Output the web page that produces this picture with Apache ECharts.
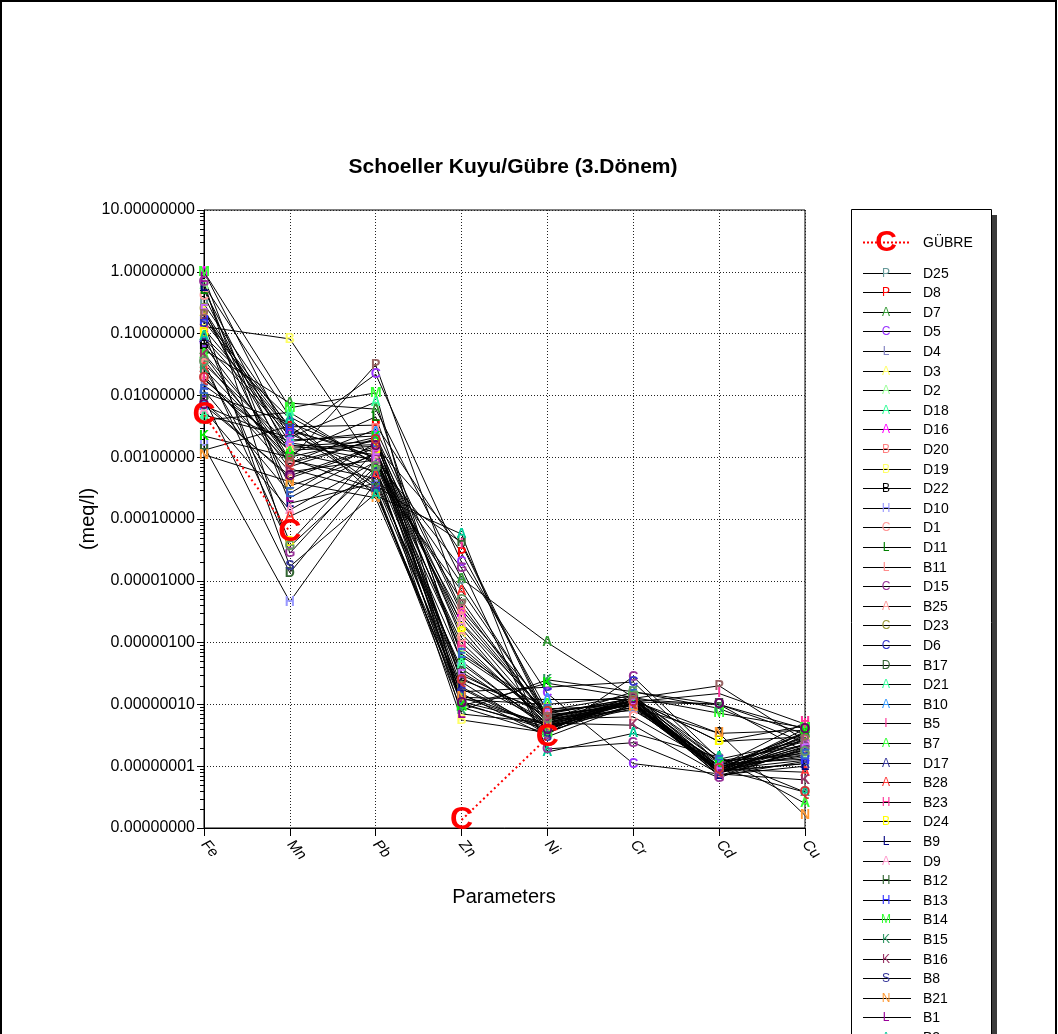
<!DOCTYPE html>
<html>
<head>
<meta charset="utf-8">
<script src="https://cdn.jsdelivr.net/npm/echarts@6/dist/echarts.min.js"></script>
<style>
  html, body { margin: 0; padding: 0; background: #fff; }
  #chart { width: 1058px; height: 1034px; }
</style>
</head>
<body>
<div id="chart"></div>
<script>
// Schoeller diagram: trace metals (meq/l) for wells and the fertiliser sample
const parameters = ['Fe', 'Mn', 'Pb', 'Zn', 'Ni', 'Cr', 'Cd', 'Cu'];

const wellNames = ['D25','D8','D7','D5','D4','D3','D2','D18','D16','D20','D19','D22','D10','D1','D11','B11',
  'D15','B25','D23','D6','B17','D21','B10','B5','B7','D17','B28','B23','D24','B9','D9','B12','B13','B14',
  'B15','B16','B8','B21','B1','B2','B3','B4','B6','B18','B19','B20','B22','B24'];
const wellLetters = ['P','P','A','C','L','A','A','A','A','B','B','B','H','C','L','L',
  'C','A','C','C','D','A','A','I','A','A','A','H','B','L','A','H','H','M',
  'K','K','S','N','L','A','G','E','K','F','G','O','Q','P'];
const wellColors = ['#669999','#ff0000','#339933','#9933ff','#8080c0','#ffff66','#99ff99','#33ff99','#ff00ff','#ff8080','#ffff66','#000000','#9999ff','#ff9999','#008000','#ff8c8c',
  '#993399','#ff9999','#999933','#3333cc','#336633','#33ff99','#3399ff','#ff3399','#33ff33','#333399','#ff3333','#ff3399','#ffff00','#000080','#ff99cc','#336633','#3333ff','#33ff33',
  '#339966','#993366','#333399','#ff9933','#990099','#00cc99','#993399','#3366cc','#00ee00','#cc66ff','#669966','#660066','#cc3333','#996666'];

const fe = [0.30,0.18,0.055,0.07,0.0146,0.22,0.6,0.004,1.0,0.037,0.13,0.065,0.0015,0.41,0.5,0.021,
  0.0078,0.032,0.25,0.011,0.009,0.0048,0.0068,0.018,0.047,0.085,0.028,0.12,0.1,0.57,0.0058,0.0013,0.16,1.0,
  0.027,0.045,0.15,0.0011,0.8,0.09,0.68,0.012,0.0022,0.24,0.035,0.007,0.019,0.2];
const mn = [0.0028,0.0031,0.0075,0.0022,0.0015,0.0014,0.0045,0.0053,0.0019,0.00081,0.082,0.0009,4.6e-6,0.0007,0.0011,0.00058,
  0.00046,0.0016,0.00034,0.0036,1.35e-5,0.0021,0.0018,0.0013,0.0012,0.0024,0.00011,0.0026,4.2e-5,0.00018,0.00014,0.0032,0.0027,0.0063,
  0.00095,0.00065,1.7e-5,0.0004,0.00022,0.0042,2.8e-5,0.00026,0.001,0.0017,3.6e-5,0.0005,0.0008,0.0009];
const pb = [0.001,0.0033,0.006,0.022,0.0018,0.0016,0.0008,0.00075,0.0022,0.0028,0.0007,0.00045,0.0004,0.002,0.0045,0.0009,
  0.0014,0.0009,0.0011,0.00095,0.00065,0.0078,0.0025,0.0015,0.0006,0.00055,0.0005,0.0012,0.0013,0.00038,0.00085,0.00035,0.00032,0.011,
  0.0003,0.00028,0.00026,0.00022,0.0012,0.00024,0.0009,0.0017,0.0021,0.0011,0.0007,0.0015,0.0019,0.031];
const zn = [9e-6,2.8e-5,1.08e-5,2e-5,2e-6,1.4e-6,7.5e-7,5e-7,3e-6,3.4e-6,5.6e-8,2.7e-7,3.8e-7,1.2e-6,6e-7,1e-6,
  2.3e-7,2.6e-6,1.9e-7,1.6e-7,3.3e-7,4.5e-7,1.3e-7,3.9e-5,1.2e-7,1.4e-7,6.9e-6,8.4e-7,1.7e-6,1.8e-7,2.1e-6,4.2e-5,1e-7,9e-8,
  8e-8,1.1e-7,1.5e-7,1.3e-7,7e-8,5.7e-5,1.6e-5,6.5e-7,9.5e-8,3e-7,4.8e-6,1.05e-7,2.5e-7,4e-6];
const ni = [6e-8,7.7e-8,1e-6,1.5e-7,5e-8,4.5e-8,5.5e-8,4e-8,6.5e-8,8.5e-8,3.5e-8,5e-8,4.2e-8,5.8e-8,7e-8,4.8e-8,
  3.2e-8,6.2e-8,3.8e-8,1.9e-7,5.2e-8,4.4e-8,1.2e-7,5.4e-8,1e-7,4.6e-8,6.8e-8,5.6e-8,4e-8,3.6e-8,7.2e-8,6e-8,4.3e-8,3.4e-8,
  2.5e-7,5e-8,3e-8,4.5e-8,5e-8,1.7e-8,1.9e-8,8e-8,2.2e-7,6.6e-8,5.7e-8,3.9e-8,7.5e-8,6e-8];
const cr = [8e-8,1.1e-7,1.3e-7,1.1e-8,9e-8,1.2e-7,1.05e-7,1.4e-7,1e-7,9.5e-8,1.2e-7,1.15e-7,8.5e-8,6.3e-8,1.25e-7,1.05e-7,
  2.8e-7,1.1e-7,1.3e-7,2.3e-7,1e-7,9e-8,1.2e-7,1.1e-7,1.35e-7,1.05e-7,9.5e-8,1.15e-7,1.2e-7,1e-7,1.25e-7,1.1e-7,1.05e-7,1.3e-7,
  1.6e-7,4.6e-8,1e-7,9e-8,1.15e-7,3.4e-8,2.4e-8,1.4e-7,1.3e-7,1e-7,1.6e-7,1.2e-7,1.1e-7,1.25e-7];
const cd = [1.2e-8,9e-9,8e-9,7.5e-9,1e-8,8.5e-9,7e-9,9.5e-9,1.1e-8,8e-9,2.5e-8,3.4e-8,9e-9,1e-8,7.5e-9,8.5e-9,
  1.3e-8,7e-9,8e-9,1.1e-8,9e-9,7.8e-9,1.2e-8,1.5e-7,1.4e-8,8.2e-9,9e-9,1e-8,2.5e-8,7.2e-9,7.6e-9,1e-7,8.8e-9,7.2e-8,
  8.6e-8,7.5e-9,8e-9,3.4e-8,9.5e-9,1.4e-8,6.5e-9,1.2e-8,1e-8,9e-9,1e-7,1e-7,9e-9,2e-7];
const cu = [2.2e-8,1.5e-8,3.5e-8,2.8e-8,1.8e-8,4e-8,1.2e-8,3e-8,2.5e-8,1.7e-8,4.5e-8,3.8e-8,2e-8,1.4e-8,3.2e-8,1.1e-8,
  2.6e-8,1.9e-8,2.3e-8,1.3e-8,3.6e-8,2.1e-8,1.6e-8,4.8e-8,2.5e-9,1.1e-8,8e-9,5.1e-8,3e-8,1e-8,2.7e-8,3.3e-8,1.25e-8,4.2e-8,
  2.4e-8,6e-9,1.8e-8,1.6e-9,2.9e-8,3.8e-9,2e-8,1.5e-8,3.4e-8,2.2e-8,1.7e-8,4e-8,3.8e-9,2.6e-8];

// fertiliser sample (Pb, Cr, Cd, Cu not measured)
const gubreName = 'GÜBRE';
const gubre = [0.0048, 6.2e-5, null, 1.35e-9, 2.9e-8, null, null, null];

// log-axis extent and minor tick multipliers
const yMin = 1e-9, yMax = 10;
const minorSteps = [2, 3, 4, 5, 6, 7, 8, 9];

const FONT = 'Liberation Sans, Arial, sans-serif';
const columns = [fe, mn, pb, zn, ni, cr, cd, cu];

const series = [];

// minor ticks of the log axis
const minorTickData = [];
for (let e = -9; e < 1; e++) {
  minorSteps.forEach(k => minorTickData.push([0, Number((k * Math.pow(10, e)).toPrecision(3))]));
}
series.push({
  type: 'custom',
  silent: true,
  clip: false,
  data: minorTickData,
  renderItem: (params, api) => {
    const p = api.coord([0, api.value(1)]);
    const y = Math.round(p[1]) + 0.5;
    return { type: 'line', shape: { x1: p[0] - 4, y1: y, x2: p[0], y2: y },
      style: { stroke: '#000', lineWidth: 1 } };
  },
  z: 1
});

wellNames.forEach((name, i) => {
  series.push({
    type: 'line',
    name: name,
    data: columns.map(col => col[i]),
    symbol: 'circle',
    symbolSize: 1,
    showSymbol: true,
    itemStyle: { color: 'rgba(0,0,0,0)' },
    lineStyle: { color: '#000', width: 1 },
    label: {
      show: true, position: 'inside', formatter: wellLetters[i],
      color: wellColors[i], fontSize: 14, fontWeight: 'bold', fontFamily: FONT
    },
    emphasis: { disabled: true },
    z: 3
  });
});

series.push({
  type: 'line',
  name: gubreName,
  data: gubre,
  connectNulls: false,
  symbol: 'circle',
  symbolSize: 1,
  itemStyle: { color: 'rgba(0,0,0,0)' },
  lineStyle: { color: '#ff0000', width: 2, type: [2, 3] },
  label: {
    show: true, position: 'inside', formatter: 'C',
    color: '#ff0000', fontSize: 32, fontWeight: 'bold', fontFamily: FONT
  },
  emphasis: { disabled: true },
  z: 4
});

// legend panel (drawn as graphics)
const graphic = [];
graphic.push({ type: 'rect', shape: { x: 992, y: 215, width: 5, height: 840 }, style: { fill: '#3c3c3c' }, z: 10 });
graphic.push({ type: 'rect', shape: { x: 851.5, y: 209.5, width: 140, height: 850 },
  style: { fill: '#fff', stroke: '#000', lineWidth: 1 }, z: 10 });
graphic.push({ type: 'line', shape: { x1: 863, y1: 242.5, x2: 911, y2: 242.5 },
  style: { stroke: '#ff0000', lineWidth: 2, lineDash: [2, 2] }, z: 11 });
graphic.push({ type: 'text', style: { text: 'C', x: 886, y: 243, fill: '#ff0000', font: 'bold 30px ' + FONT,
  textAlign: 'center', textVerticalAlign: 'middle' }, z: 12 });
graphic.push({ type: 'text', style: { text: gubreName, x: 923, y: 243, fill: '#000', font: '14px ' + FONT,
  textAlign: 'left', textVerticalAlign: 'middle' }, z: 12 });
wellNames.forEach((name, i) => {
  const y = Math.round(272.5 + i * 19.6);
  graphic.push({ type: 'line', shape: { x1: 863, y1: y + 0.5, x2: 911, y2: y + 0.5 },
    style: { stroke: '#000', lineWidth: 1 }, z: 11 });
  graphic.push({ type: 'text', style: { text: wellLetters[i], x: 886, y: y + 1, fill: wellColors[i],
    font: '12px ' + FONT, textAlign: 'center', textVerticalAlign: 'middle' }, z: 12 });
  graphic.push({ type: 'text', style: { text: name, x: 923, y: y + 1, fill: '#000', font: '14px ' + FONT,
    textAlign: 'left', textVerticalAlign: 'middle' }, z: 12 });
});

// title and axis names
graphic.push({ type: 'text', style: { text: 'Schoeller Kuyu/Gübre (3.Dönem)', x: 513, y: 167, fill: '#000',
  font: 'bold 21px ' + FONT, textAlign: 'center', textVerticalAlign: 'middle' }, z: 12 });
graphic.push({ type: 'text', rotation: Math.PI / 2, x: 88, y: 519,
  style: { text: '(meq/l)', x: 0, y: 0, fill: '#000', font: '20px ' + FONT,
  textAlign: 'center', textVerticalAlign: 'middle' }, z: 12 });
graphic.push({ type: 'text', style: { text: 'Parameters', x: 504, y: 897, fill: '#000', font: '20px ' + FONT,
  textAlign: 'center', textVerticalAlign: 'middle' }, z: 12 });
// figure frame
graphic.push({ type: 'rect', shape: { x: 1, y: 1, width: 1055, height: 1040 },
  style: { fill: 'none', stroke: '#000', lineWidth: 2 }, z: 12 });

const dotted = { color: '#222', width: 1, type: [1, 2] };

const option = {
  animation: false,
  backgroundColor: '#fff',
  grid: { left: 204, top: 210, right: 253, bottom: 206, show: true, borderColor: '#000', borderWidth: 1 },
  xAxis: {
    type: 'category',
    data: parameters,
    boundaryGap: false,
    axisLine: { lineStyle: { color: '#000', width: 1 } },
    axisTick: { show: true, length: 8, inside: false, lineStyle: { color: '#000' } },
    axisLabel: { rotate: -50, fontStyle: 'italic', fontSize: 15, fontFamily: FONT, color: '#000', margin: 14 },
    splitLine: { show: true, lineStyle: dotted }
  },
  yAxis: {
    type: 'log',
    logBase: 10,
    min: yMin,
    max: yMax,
    splitNumber: 10,
    axisLine: { show: true, lineStyle: { color: '#000', width: 1 } },
    axisTick: { show: true, length: 7, inside: false, lineStyle: { color: '#000' } },
    axisLabel: { formatter: v => Number(v).toFixed(8), fontSize: 16, fontFamily: FONT, color: '#000', margin: 9 },
    splitLine: { show: true, lineStyle: dotted }
  },
  graphic: graphic,
  series: series
};

const chart = echarts.init(document.getElementById('chart'), null, { renderer: 'canvas' });
chart.setOption(option);
</script>
</body>
</html>
